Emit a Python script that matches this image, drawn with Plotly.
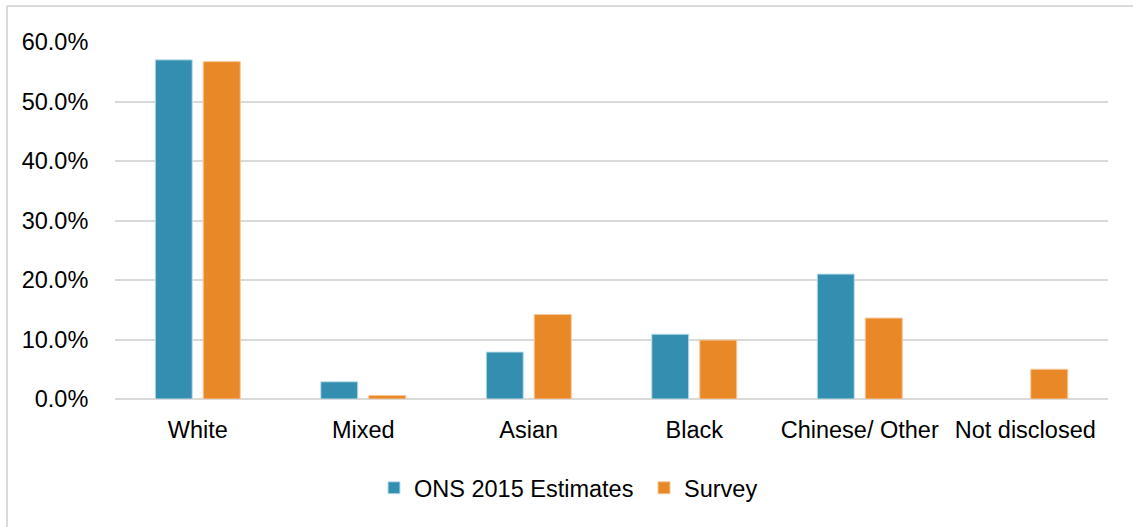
import plotly.graph_objects as go

categories = ["White", "Mixed", "Asian", "Black", "Chinese/ Other", "Not disclosed"]
ons_2015 = [0.570, 0.029, 0.079, 0.109, 0.210, 0.0]
survey = [0.567, 0.006, 0.142, 0.099, 0.136, 0.050]
y_ticks = [0, 0.1, 0.2, 0.3, 0.4, 0.5, 0.6]

TEAL = "#348EAF"
ORANGE = "#E98826"
FONT = "Liberation Sans, Arial, sans-serif"

fig = go.Figure()
fig.add_trace(go.Bar(
    x=categories, y=ons_2015, name="ONS 2015 Estimates",
    marker=dict(color=TEAL, line=dict(color="#BFE0EC", width=[1, 1, 1, 1, 1, 0])),
))
fig.add_trace(go.Bar(
    x=categories, y=survey, name="Survey",
    marker=dict(color=ORANGE, line=dict(color="#F6C79A", width=1)),
))

W, H = 1133, 527
L, R, T, B = 115, 25, 42, 128
pw, ph = W - L - R, H - T - B

def px_to_paper_x(px):
    return (px - L) / pw

def px_to_paper_y(py):
    return (H - B - py) / ph

fig.update_layout(
    width=W, height=H,
    margin=dict(l=L, r=R, t=T, b=B, pad=0),
    paper_bgcolor="white", plot_bgcolor="white",
    font=dict(family=FONT, size=23.5, color="#000000"),
    barmode="group", bargap=0.42, bargroupgap=0.229,
    showlegend=True,
    legend=dict(
        orientation="h", x=px_to_paper_x(374), xanchor="left",
        y=px_to_paper_y(488), yanchor="middle",
        font=dict(size=23.5), traceorder="normal",
        entrywidth=225, entrywidthmode="pixels",
        bgcolor="rgba(0,0,0,0)",
    ),
    xaxis=dict(
        showgrid=False, showline=False, ticks="outside", ticklen=10,
        tickcolor="rgba(0,0,0,0)", tickfont=dict(size=23.5),
    ),
    yaxis=dict(
        range=[0, 0.6], tickvals=y_ticks, tickformat=".1%",
        showgrid=True, gridcolor="#D9D9D9", gridwidth=2,
        zeroline=True, zerolinecolor="#D9D9D9", zerolinewidth=2,
        showline=False, ticks="outside", ticklen=21,
        tickcolor="rgba(0,0,0,0)", tickfont=dict(size=23.5),
    ),
    shapes=[
        dict(type="line", xref="paper", yref="paper",
             x0=px_to_paper_x(7), x1=px_to_paper_x(1200),
             y0=px_to_paper_y(6), y1=px_to_paper_y(6),
             line=dict(color="#D9D9D9", width=2)),
        dict(type="line", xref="paper", yref="paper",
             x0=px_to_paper_x(7), x1=px_to_paper_x(7),
             y0=px_to_paper_y(6), y1=px_to_paper_y(600),
             line=dict(color="#D9D9D9", width=2)),
    ],
)

fig.write_html(
    "out.html",
    config={"displayModeBar": False},
    post_script="document.body.style.margin='0';",
)
